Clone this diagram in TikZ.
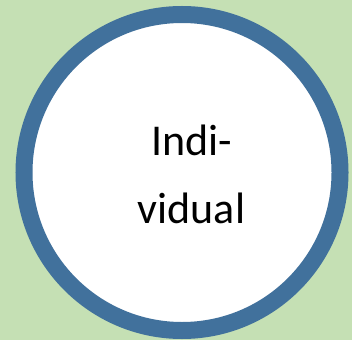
\documentclass[tikz,border=0pt]{standalone}
\usepackage{fontspec}
\setmainfont{Carlito}
\definecolor{bggreen}{HTML}{C5E0B4}
\definecolor{ringblue}{HTML}{41719C}
\begin{document}
\begin{tikzpicture}[x=1pt,y=1pt,
  ring/.style={draw=ringblue,line width=17pt,fill=white},
  label/.style={align=center,font=\fontsize{44}{68}\selectfont,inner sep=0pt}]
\fill[bggreen] (0,0) rectangle (352,340);
\useasboundingbox (0,0) rectangle (352,340);
\draw[ring] (182,167.5) circle[radius=158];
\node[label,anchor=base] (txt) at (191.5,117) {Indi-\\vidual};
\end{tikzpicture}
\end{document}
